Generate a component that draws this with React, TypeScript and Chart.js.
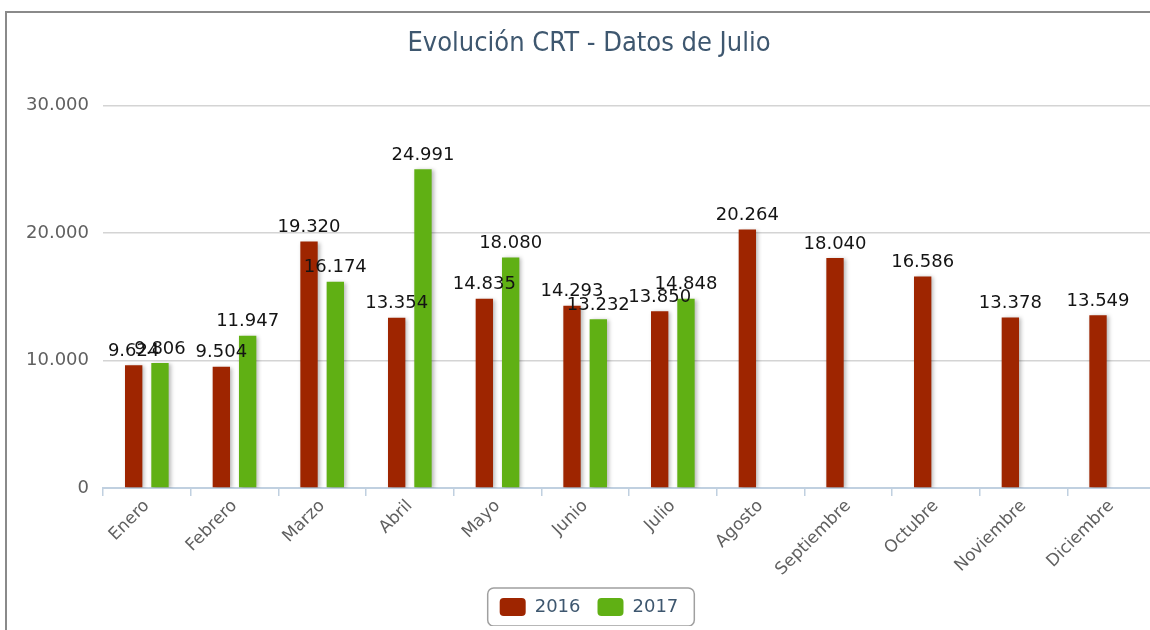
import React, { useEffect, useRef } from "react";
import { Chart, registerables } from "chart.js";

Chart.register(...registerables);

const categories = [
  "Enero", "Febrero", "Marzo", "Abril", "Mayo", "Junio",
  "Julio", "Agosto", "Septiembre", "Octubre", "Noviembre", "Diciembre",
];
const values2016 = [9624, 9504, 19320, 13354, 14835, 14293, 13850, 20264, 18040, 16586, 13378, 13549];
const values2017 = [9806, 11947, 16174, 24991, 18080, 13232, 14848, null, null, null, null, null];
const yTicks = [0, 10000, 20000, 30000];
const titleText = "Evolución CRT - Datos de Julio";

const fmt = (n: number) => String(Math.round(n)).replace(/\B(?=(\d{3})+(?!\d))/g, ".");

const FONT = "'DejaVu Sans', Verdana, sans-serif";

const shadowPlugin = {
  id: "barShadow",
  beforeDatasetDraw(chart: any) {
    const ctx = chart.ctx;
    ctx.save();
    ctx.shadowColor = "rgba(0,0,0,0.28)";
    ctx.shadowBlur = 4;
    ctx.shadowOffsetX = 2;
    ctx.shadowOffsetY = 1;
  },
  afterDatasetDraw(chart: any) {
    chart.ctx.restore();
  },
};

const dataLabelPlugin = {
  id: "dataLabels",
  afterDatasetsDraw(chart: any) {
    const ctx = chart.ctx;
    ctx.save();
    ctx.font = `18px ${FONT}`;
    ctx.fillStyle = "#141414";
    ctx.textAlign = "center";
    ctx.textBaseline = "bottom";
    chart.data.datasets.forEach((ds: any, i: number) => {
      const meta = chart.getDatasetMeta(i);
      meta.data.forEach((bar: any, j: number) => {
        const v = ds.data[j];
        if (v === null || v === undefined) return;
        ctx.fillText(fmt(v), bar.x, bar.y - 5);
      });
    });
    ctx.restore();
  },
};

const legendBoxPlugin = {
  id: "legendBox",
  afterDraw(chart: any) {
    const lg = chart.legend;
    if (!lg || !lg.legendHitBoxes || !lg.legendHitBoxes.length) return;
    const hb = lg.legendHitBoxes;
    let l = Infinity, r = -Infinity, t = Infinity, b = -Infinity;
    hb.forEach((h: any) => {
      l = Math.min(l, h.left);
      r = Math.max(r, h.left + h.width);
      t = Math.min(t, h.top);
      b = Math.max(b, h.top + h.height);
    });
    const ctx = chart.ctx;
    const x = l - 12, y = t - 10, w = r - l + 28, h = b - t + 20, rad = 6;
    ctx.save();
    ctx.strokeStyle = "#a0a0a0";
    ctx.lineWidth = 1.5;
    ctx.beginPath();
    ctx.roundRect(x, y, w, h, rad);
    ctx.stroke();
    ctx.restore();
  },
};

export default function App() {
  const ref = useRef<HTMLCanvasElement | null>(null);
  useEffect(() => {
    if (!ref.current) return;
    const chart = new Chart(ref.current, {
      type: "bar",
      data: {
        labels: categories,
        datasets: [
          {
            label: "2016",
            data: values2016,
            backgroundColor: "#9E2500",
            categoryPercentage: 0.6,
            barPercentage: 0.66,
          },
          {
            label: "2017",
            data: values2017,
            backgroundColor: "#60B014",
            categoryPercentage: 0.6,
            barPercentage: 0.66,
          },
        ],
      },
      options: {
        responsive: false,
        animation: false,
        layout: { padding: { left: 16, right: 10, top: 0, bottom: 0 } },
        plugins: {
          title: {
            display: true,
            text: titleText,
            color: "#3E576F",
            font: { family: "'Liberation Sans Narrow', 'DejaVu Sans Condensed', sans-serif", size: 27, weight: "normal", lineHeight: 1.2 },
            padding: { top: 15, bottom: 45 },
          },
          legend: {
            display: true,
            position: "bottom",
            labels: {
              color: "#3E576F",
              font: { family: FONT, size: 18 },
              boxWidth: 26,
              boxHeight: 18,
              padding: 17,
              useBorderRadius: true,
              borderRadius: 4,
            },
          },
          tooltip: { enabled: false },
        },
        scales: {
          x: {
            offset: true,
            grid: {
              display: true,
              offset: true,
              drawOnChartArea: false,
              drawTicks: true,
              tickLength: 8,
              color: "#C0D0E0",
              lineWidth: 1.5,
            },
            border: { display: true, color: "#C0D0E0", width: 2 },
            ticks: {
              color: "#606060",
              font: { family: FONT, size: 17 },
              minRotation: 45,
              maxRotation: 45,
              autoSkip: false,
              padding: 0,
            },
            afterFit(scale: any) {
              scale.height = 93;
            },
          },
          y: {
            min: 0,
            max: 30000,
            afterBuildTicks(scale: any) {
              scale.ticks = yTicks.map((v) => ({ value: v }));
            },
            grid: { color: "#D4D4D4", lineWidth: 1.5, drawTicks: false },
            border: { display: false },
            ticks: {
              color: "#606060",
              font: { family: FONT, size: 18 },
              padding: 14,
              callback: (v: any) => fmt(Number(v)),
            },
            afterFit(scale: any) {
              scale.width = 80;
            },
          },
        },
      },
      plugins: [shadowPlugin, dataLabelPlugin, legendBoxPlugin],
    });
    return () => chart.destroy();
  }, []);

  return (
    <div
      style={{
        position: "fixed",
        left: 5,
        top: 11,
        width: 1300,
        height: 640,
        borderLeft: "2px solid #8a8a8a",
        borderTop: "2px solid #8a8a8a",
        background: "#fff",
        overflow: "hidden",
      }}
    >
      <canvas ref={ref} width={1158} height={613} style={{ display: "block" }} />
    </div>
  );
}
